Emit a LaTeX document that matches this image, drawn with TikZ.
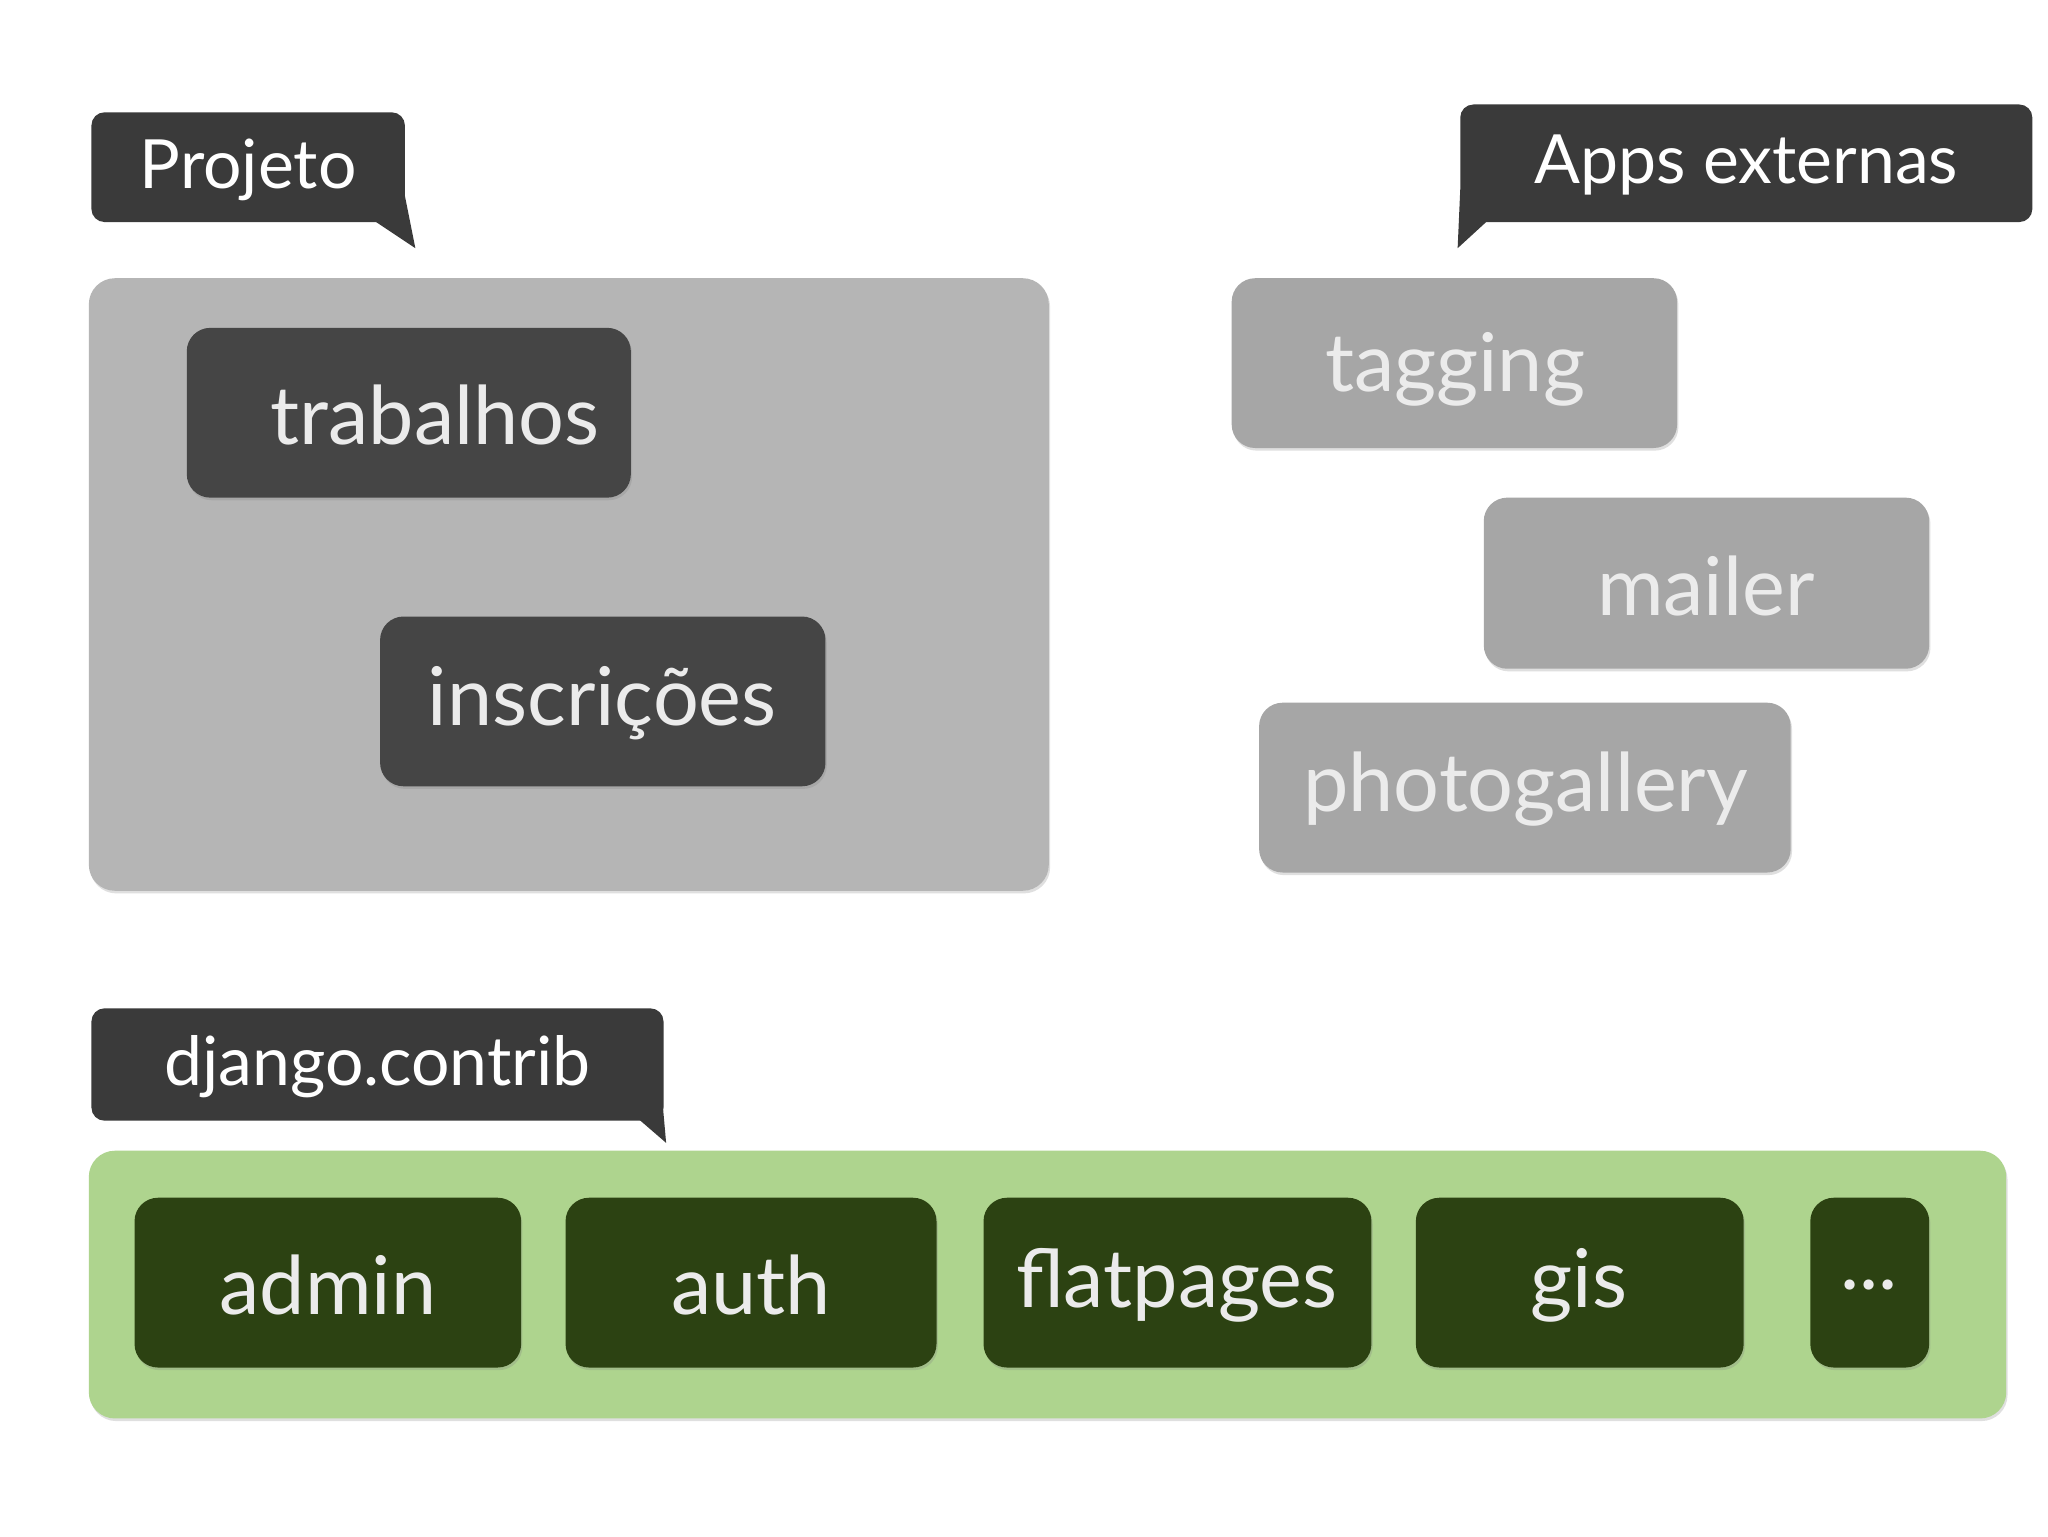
\documentclass[tikz,border=0pt]{standalone}
\usepackage{fontspec}
\setmainfont{Lato}
\usetikzlibrary{shadows}
\definecolor{tagdark}{HTML}{3A3A3A}
\definecolor{projbg}{HTML}{B5B5B5}
\definecolor{appdark}{HTML}{454545}
\definecolor{extbg}{HTML}{A6A6A6}
\definecolor{greenbg}{HTML}{AED48E}
\definecolor{greenbox}{HTML}{2C4212}
\begin{document}
\begin{tikzpicture}[x=1pt,y=-1pt,
  tagbox/.style={fill=tagdark,rounded corners=10pt},
  tagtxt/.style={text=white,font=\fontsize{52}{60}\selectfont},
  appbox/.style={rounded corners=18pt,drop shadow={opacity=0.25,shadow xshift=1pt,shadow yshift=-2pt}},
  apptxt/.style={font=\fontsize{62}{70}\selectfont,text=white!92!black}]
\useasboundingbox (0,0) rectangle (1568,1176);
\fill[white] (0,0) rectangle (1568,1176);
% callouts
\fill[tagdark] (285,168) -- (318,190) -- (308,140) -- cycle;
\fill[tagbox] (70,86) rectangle (310,170);
\node[tagtxt] (tproj) at (190,130) {Projeto};
\fill[tagdark] (1118,145) -- (1116,190) -- (1140,168) -- cycle;
\fill[tagbox] (1118,80) rectangle (1556,170);
\node[tagtxt] (text) at (1337,126) {Apps externas};
\fill[tagdark] (488,856) -- (510,875) -- (506,830) -- cycle;
\fill[tagbox] (70,772) rectangle (508,858);
\node[tagtxt] (tdj) at (289,817) {django.contrib};
% project
\fill[projbg,appbox,rounded corners=20pt] (68,213) rectangle (803,682);
\fill[appdark,appbox] (143,251) rectangle (483,381);
\node[apptxt] (trab) at (333,318) {trabalhos};
\fill[appdark,appbox] (291,472) rectangle (632,602);
\node[apptxt] (insc) at (461,538) {inscrições};
% external
\fill[extbg,appbox] (943,213) rectangle (1284,343);
\node[apptxt] (tag) at (1114,283) {tagging};
\fill[extbg,appbox] (1136,381) rectangle (1477,512);
\node[apptxt] (mail) at (1306,449) {mailer};
\fill[extbg,appbox] (964,538) rectangle (1371,668);
\node[apptxt] (photo) at (1168,604) {photogallery};
% contrib
\fill[greenbg,appbox,rounded corners=20pt] (68,881) rectangle (1536,1086);
\fill[greenbox,appbox] (103,917) rectangle (399,1047);
\node[apptxt] (admin) at (251,984) {admin};
\fill[greenbox,appbox] (433,917) rectangle (717,1047);
\node[apptxt] (auth) at (575,984) {auth};
\fill[greenbox,appbox] (753,917) rectangle (1050,1047);
\node[apptxt] (flat) at (901,984) {flatpages};
\fill[greenbox,appbox] (1084,917) rectangle (1335,1047);
\node[apptxt] (gis) at (1209,984) {gis};
\fill[greenbox,appbox] (1386,917) rectangle (1477,1047);
\node[apptxt] (dots) at (1431,984) {...};
\end{tikzpicture}
\end{document}
